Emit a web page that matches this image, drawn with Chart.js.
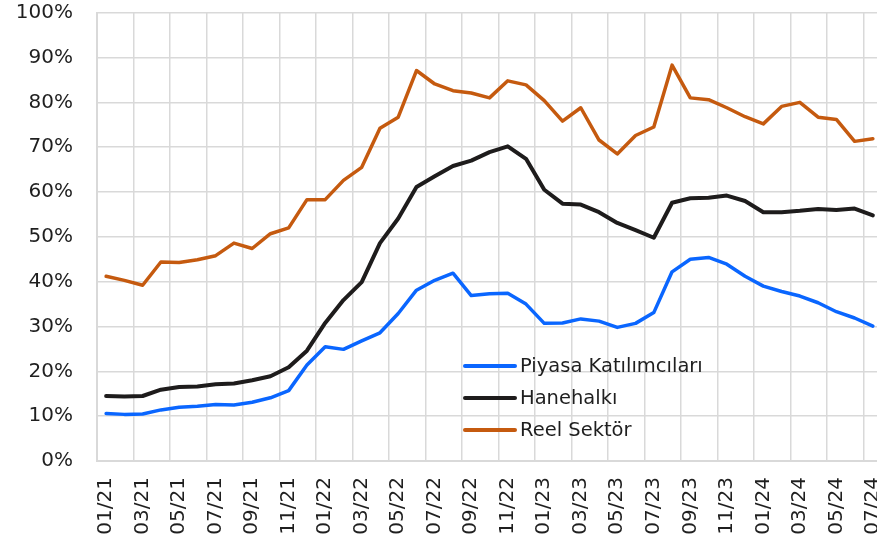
<!DOCTYPE html>
<html>
<head>
<meta charset="utf-8">
<script src="https://cdn.jsdelivr.net/npm/chart.js@4/dist/chart.umd.min.js"></script>
<style>
  html, body { margin: 0; padding: 0; background: #ffffff; overflow: hidden; }
  #wrap { width: 877px; height: 543px; overflow: hidden; position: relative; }
  canvas { display: block; }
</style>
</head>
<body>
<div id="wrap"><canvas id="c" width="884" height="543"></canvas></div>
<script>
const categories = ['01/21','02/21','03/21','04/21','05/21','06/21','07/21','08/21','09/21','10/21','11/21','12/21',
  '01/22','02/22','03/22','04/22','05/22','06/22','07/22','08/22','09/22','10/22','11/22','12/22',
  '01/23','02/23','03/23','04/23','05/23','06/23','07/23','08/23','09/23','10/23','11/23','12/23',
  '01/24','02/24','03/24','04/24','05/24','06/24','07/24'];

const piyasaKatilimcilari = [10.6, 10.4, 10.5, 11.4, 12.0, 12.2, 12.6, 12.5, 13.1, 14.1, 15.7, 21.4,
  25.5, 24.9, 26.8, 28.6, 32.9, 38.1, 40.3, 41.9, 36.9, 37.3, 37.4, 35.0,
  30.7, 30.8, 31.7, 31.2, 29.8, 30.7, 33.1, 42.2, 45.0, 45.4, 43.9, 41.2,
  39.0, 37.8, 36.8, 35.3, 33.3, 31.9, 30.1];

const hanehalki = [14.5, 14.4, 14.5, 15.9, 16.5, 16.6, 17.1, 17.3, 18.0, 18.9, 20.9, 24.6,
  30.8, 35.9, 39.9, 48.6, 54.1, 61.1, 63.5, 65.8, 67.0, 68.9, 70.2, 67.4,
  60.5, 57.4, 57.2, 55.5, 53.1, 51.5, 49.8, 57.6, 58.6, 58.7, 59.2, 58.0,
  55.5, 55.5, 55.8, 56.2, 56.0, 56.3, 54.8];

const reelSektor = [41.2, 40.3, 39.2, 44.4, 44.3, 44.9, 45.8, 48.6, 47.4, 50.7, 52.0, 58.3,
  58.3, 62.6, 65.5, 74.2, 76.7, 87.1, 84.1, 82.6, 82.1, 81.0, 84.8, 83.9,
  80.4, 75.8, 78.8, 71.6, 68.5, 72.6, 74.5, 88.3, 81.0, 80.6, 78.8, 76.8,
  75.2, 79.1, 80.0, 76.7, 76.2, 71.3, 71.9];

const seriesNames = ['Piyasa Katılımcıları', 'Hanehalkı', 'Reel Sektör'];
const yTicks = [0, 10, 20, 30, 40, 50, 60, 70, 80, 90, 100];

const GRID = '#d9d9d9';
const TEXT = '#1f1f1f';

const legendPlugin = {
  id: 'insideLegend',
  afterDraw(chart) {
    const ctx = chart.ctx;
    const o = chart.options.plugins.insideLegend;
    ctx.save();
    chart.data.datasets.forEach((ds, i) => {
      const y = o.y + i * o.rowGap;
      ctx.strokeStyle = ds.borderColor;
      ctx.lineWidth = 4;
      ctx.lineCap = 'round';
      ctx.beginPath();
      ctx.moveTo(o.x, y);
      ctx.lineTo(o.x + o.lineLen, y);
      ctx.stroke();
      ctx.fillStyle = TEXT;
      ctx.font = o.font;
      ctx.textBaseline = 'middle';
      ctx.textAlign = 'left';
      ctx.fillText(ds.label, o.x + o.lineLen + 5, y + 1);
    });
    ctx.restore();
  }
};

new Chart(document.getElementById('c'), {
  type: 'line',
  data: {
    labels: categories,
    datasets: [
      { label: seriesNames[0], data: piyasaKatilimcilari, borderColor: '#0a66ff', borderWidth: 3.5 },
      { label: seriesNames[1], data: hanehalki, borderColor: '#1e1c1c', borderWidth: 4 },
      { label: seriesNames[2], data: reelSektor, borderColor: '#c55a0f', borderWidth: 3.5 }
    ]
  },
  options: {
    responsive: false,
    animation: false,
    devicePixelRatio: 1,
    layout: { padding: { left: 0, top: 12.7, right: 2, bottom: 0 } },
    elements: {
      point: { radius: 0 },
      line: { tension: 0, borderJoinStyle: 'round', borderCapStyle: 'round' }
    },
    plugins: {
      legend: { display: false },
      tooltip: { enabled: false },
      insideLegend: { x: 465, y: 366, rowGap: 32, lineLen: 50, font: '19.5px "DejaVu Sans"' }
    },
    scales: {
      x: {
        type: 'category',
        offset: true,
        grid: {
          offset: true,
          drawTicks: false,
          lineWidth: 1.5,
          color: (c) => (c.index !== undefined && c.index % 2 === 0) ? GRID : 'rgba(0,0,0,0)'
        },
        border: { color: GRID, width: 2 },
        ticks: {
          autoSkip: false,
          minRotation: 90,
          maxRotation: 90,
          padding: 16,
          color: TEXT,
          font: { family: '"DejaVu Sans"', size: 20 },
          callback: function (val, index) { return index % 2 === 0 ? this.getLabelForValue(val) : ''; }
        },
        afterFit: (s) => { s.height = 82; s.paddingLeft = 0; s.paddingRight = 0; s.paddingTop = 0; s.paddingBottom = 0; }
      },
      y: {
        min: 0,
        max: 100,
        afterBuildTicks: (s) => { s.ticks = yTicks.map(v => ({ value: v })); },
        grid: { color: GRID, lineWidth: 1.5, drawTicks: false },
        border: { color: GRID, width: 2 },
        ticks: {
          padding: 24,
          color: TEXT,
          font: { family: '"DejaVu Sans"', size: 20 },
          callback: (v) => v + '%'
        },
        afterFit: (s) => { s.width = 97; s.paddingLeft = 0; s.paddingRight = 0; s.paddingTop = 0; s.paddingBottom = 0; }
      }
    }
  },
  plugins: [legendPlugin]
});
</script>
</body>
</html>
